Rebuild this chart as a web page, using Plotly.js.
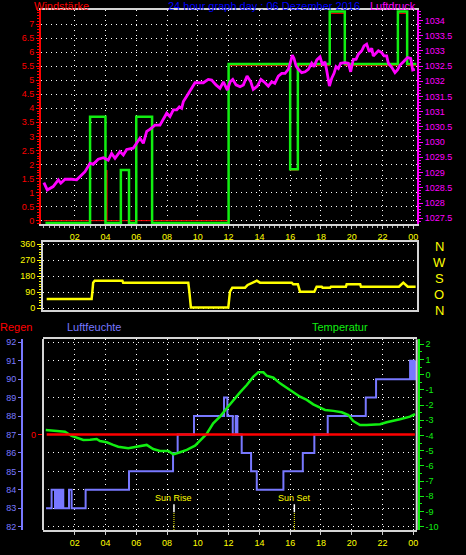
<!DOCTYPE html>
<html>
<head>
<meta charset="utf-8">
<script src="https://cdn.plot.ly/plotly-3.0.1.min.js"></script>
<style>html,body{margin:0;padding:0;background:#000;}#chart{width:466px;height:555px;}</style>
</head>
<body>
<div id="chart"></div>
<script>
// ---------- axis labels ----------
const hourTickVals = [2,4,6,8,10,12,14,16,18,20,22,24];
const hourTickText = ["02","04","06","08","10","12","14","16","18","20","22","00"];
const windTickVals = [0,0.5,1,1.5,2,2.5,3,3.5,4,4.5,5,5.5,6,6.5,7];
const pressTickVals = [1027.5,1028,1028.5,1029,1029.5,1030,1030.5,1031,1031.5,1032,1032.5,1033,1033.5,1034];
const pressTickText = ["1027.5","1028","1028.5","1029","1029.5","1030","1030.5","1031","1031.5","1032","1032.5","1033","1033.5","1034"];
const dirTickVals = [0,90,180,270,360];
const compassLabels = ["N","O","S","W","N"];
const humTickVals = [82,83,84,85,86,87,88,89,90,91,92];
const tempTickVals = [2,1,0,-1,-2,-3,-4,-5,-6,-7,-8,-9,-10];
const tempTickText = ["2","1","0","-1","-2","-3","-4","-5","-6","-7","-8","-9","-10"];
const rainTickVals = [0];
const rainTickText = ["0"];

// ---------- top panel: wind speed (green), average (red), pressure (magenta) ----------
const windTimes = [0.1, 3.0, 4.0, 5.0, 5.53, 6.0, 7.03, 12.0, 16.0, 16.5, 18.57, 19.55, 23.0, 23.6, 24.2];
const windSpeed = [-0.08, 3.7, -0.08, 1.8, -0.08, 3.7, -0.08, 5.58, 1.83, 5.58, 7.45, 5.58, 7.45, 5.58, 5.58];
const windAvgTimes = [0, 4.07, 4.1, 12.0, 16.0, 16.5, 18.57, 19.55, 23.0, 23.6, 24.2];
const windAvg = [0, 1.8, 0, 5.52, 1.8, 5.52, 7.38, 5.52, 7.38, 5.52, 5.52];

const pressTimes = [0.0,0.22,0.6,0.94,1.1,1.37,1.8,2.13,2.45,2.67,3.0,3.2,3.53,3.86,4.18,4.4,4.62,4.94,5.16,5.38,5.8,6.0,6.24,6.46,6.68,6.88,7.22,7.54,7.76,7.98,8.19,8.41,8.63,8.8,8.95,9.06,9.28,9.5,9.7,9.82,10.03,10.36,10.68,10.9,11.18,11.44,11.66,11.92,12.1,12.27,12.48,12.74,12.96,13.2,13.44,13.6,13.87,14.1,14.37,14.58,14.8,15.0,15.23,15.45,15.67,15.88,16.03,16.14,16.25,16.38,16.53,16.75,16.97,17.18,17.4,17.55,17.73,17.94,18.1,18.26,18.37,18.48,18.55,18.7,18.85,18.98,19.13,19.28,19.56,19.78,19.93,20.1,20.28,20.43,20.65,20.8,20.97,21.14,21.3,21.4,21.58,21.73,21.95,22.1,22.27,22.38,22.6,22.81,22.97,23.14,23.36,23.62,23.83,23.96,24.1];
const pressure = [1028.67,1028.43,1028.54,1028.76,1028.65,1028.78,1028.78,1028.76,1028.92,1029.03,1029.31,1029.27,1029.44,1029.49,1029.41,1029.63,1029.47,1029.69,1029.58,1029.76,1029.8,1029.94,1030.13,1029.96,1030.35,1030.42,1030.56,1030.56,1030.78,1030.95,1030.84,1031.06,1031.06,1031.16,1031.11,1031.33,1031.51,1031.69,1031.88,1031.95,1031.95,1031.95,1032.06,1032.04,1031.88,1031.77,1031.98,1031.71,1031.98,1032.06,1031.88,1031.82,1031.88,1032.17,1031.98,1031.73,1031.84,1032.06,1031.95,1031.84,1031.98,1031.93,1032.17,1032.26,1032.26,1032.39,1032.64,1032.86,1032.75,1032.5,1032.39,1032.28,1032.31,1032.39,1032.59,1032.48,1032.7,1032.8,1032.53,1032.64,1032.37,1032.1,1031.84,1032.1,1032.26,1032.48,1032.42,1032.59,1032.61,1032.59,1032.31,1032.72,1032.72,1032.89,1033.0,1033.16,1033.22,1032.97,1033.08,1032.83,1032.92,1033.0,1032.94,1032.83,1032.83,1032.59,1032.46,1032.28,1032.37,1032.53,1032.64,1032.78,1032.75,1032.37,1032.39];

// ---------- middle panel: wind direction ----------
const dirTimes = [0.18,3.1,3.15,3.2,3.3,5.1,5.15,9.38,9.45,9.5,9.55,11.98,12.09,12.24,13.07,13.24,13.6,13.83,14.04,16.1,16.2,16.5,16.64,17.57,17.72,18.05,18.1,18.6,18.65,19.62,19.67,20.55,20.6,23.07,23.35,23.64,24.15];
const windDir = [51,51,92,143,154,154,143,143,92,28,3,3,92,115,115,130,143,154,143,143,134,134,92,92,120,120,115,115,120,120,134,134,120,120,143,120,120];

// ---------- bottom panel: humidity, temperature, rain ----------
const humTimes = [0.14,0.5,0.72,0.76,0.8,0.84,0.88,0.92,0.96,1.0,1.04,1.08,1.12,1.16,1.2,1.24,1.26,1.63,1.8,2.71,5.53,8.39,8.69,9.75,11.7,11.92,12.27,12.46,12.57,12.85,13.46,13.83,15.56,16.82,17.57,18.44,20.91,21.58,23.79,23.83,23.87,23.91,23.95,23.99,24.03,24.07,24.12];
const humidity = [83,84,83,84,83,84,83,84,83,84,83,84,83,84,83,84,83,84,83,84,85,86,87,88,89,88,87,88,87,86,85,84,85,86,87,88,89,90,91,90,91,90,91,90,91,90,91];

const tempTimes = [0.12,0.6,1.0,1.37,1.8,2.56,3.0,3.43,3.64,4.08,4.5,4.83,5.48,6.03,6.68,7.1,7.54,8.08,8.41,8.84,9.28,9.82,10.14,10.57,11.0,11.44,11.88,12.31,12.74,13.18,13.61,13.93,14.26,14.48,14.91,15.34,15.78,16.21,16.64,17.08,17.5,17.94,18.27,18.8,19.35,19.78,20.1,20.54,20.97,21.84,22.27,23.13,23.78,24.11];
const temperature = [-3.64,-3.68,-3.72,-3.75,-4.03,-4.3,-4.28,-4.23,-4.36,-4.45,-4.62,-4.74,-4.84,-4.74,-4.62,-4.89,-5.02,-5.02,-5.24,-5.1,-4.95,-4.67,-4.36,-3.9,-3.2,-2.76,-2.21,-1.66,-1.16,-0.68,-0.13,0.16,0.16,-0.07,-0.2,-0.57,-0.86,-1.16,-1.45,-1.66,-1.95,-2.17,-2.32,-2.38,-2.47,-2.65,-3.05,-3.31,-3.31,-3.26,-3.13,-2.93,-2.76,-2.59];

const rainTimes = [0.18, 24.1];
const rain = [0, 0];

const sunTimes = [8.45, 16.27];
const sunLabels = ["Sun Rise", "Sun Set"];

// ---------- colors ----------
const RED = "#ff0000", MAGENTA = "#ff00ff", GREEN = "#11ee11", YELLOW = "#ffff00",
      HUMBLUE = "#7878ff", TITLEBLUE = "#0000ff", FRAME = "#d4d4d4", GRID = "#ffffff";
const FONT = "Liberation Sans, Arial, sans-serif";
const W = 466, H = 555;
const px = v => v / W;          // pixel -> paper x
const py = v => 1 - v / H;      // pixel -> paper y

const traces = [
  {x: windAvgTimes, y: windAvg, xaxis: "x", yaxis: "y", mode: "lines", line: {color: RED, width: 1, shape: "hv"}},
  {x: windTimes, y: windSpeed, xaxis: "x", yaxis: "y", mode: "lines", line: {color: GREEN, width: 2.5, shape: "hv"}},
  {x: pressTimes, y: pressure, xaxis: "x", yaxis: "y2", mode: "lines", line: {color: MAGENTA, width: 2.8}},
  {x: dirTimes, y: windDir, xaxis: "x2", yaxis: "y3", mode: "lines", line: {color: YELLOW, width: 2.5}},
  {x: humTimes, y: humidity, xaxis: "x3", yaxis: "y5", mode: "lines", line: {color: HUMBLUE, width: 2, shape: "hv"}},
  {x: tempTimes, y: temperature, xaxis: "x3", yaxis: "y6", mode: "lines", line: {color: GREEN, width: 2.5}},
  {x: rainTimes, y: rain, xaxis: "x3", yaxis: "y7", mode: "lines", line: {color: RED, width: 2.5}}
];

const gridStyle = {showgrid: true, gridcolor: GRID, gridwidth: 1, griddash: "1px,4px"};
const tickFont = (c) => ({family: FONT, size: 9, color: c});

const layout = {
  width: W, height: H,
  margin: {l: 0, r: 0, t: 0, b: 0},
  paper_bgcolor: "#000", plot_bgcolor: "#000",
  showlegend: false,
  font: {family: FONT},
  xaxis: Object.assign({
    domain: [px(41), px(417)], range: [-0.188, 24.24], anchor: "y",
    tickmode: "array", tickvals: hourTickVals, ticktext: hourTickText,
    ticks: "outside", ticklen: 3, tickcolor: "#cccccc", tickfont: tickFont(YELLOW),
    showline: true, mirror: true, linecolor: FRAME, linewidth: 2, zeroline: false,
    minor: {tickmode: "linear", tick0: 0, dtick: 1/3, ticks: "outside", ticklen: 2, tickcolor: "#aaaaaa", showgrid: false}
  }, gridStyle),
  yaxis: Object.assign({
    domain: [py(224), py(10)], range: [-0.12, 7.5], anchor: "x",
    tickmode: "array", tickvals: windTickVals,
    ticks: "outside", ticklen: 3, tickcolor: RED, tickfont: tickFont(RED),
    showline: true, linecolor: RED, linewidth: 2, zeroline: false,
    minor: {tickmode: "linear", tick0: 0, dtick: 0.1, ticks: "outside", ticklen: 2, tickcolor: RED, showgrid: false}
  }, gridStyle),
  yaxis2: {
    overlaying: "y", side: "right", anchor: "x", range: [1027.31, 1034.34],
    tickmode: "array", tickvals: pressTickVals, ticktext: pressTickText,
    ticks: "outside", ticklen: 4, tickcolor: MAGENTA, tickfont: tickFont(MAGENTA),
    showline: true, linecolor: MAGENTA, linewidth: 2, showgrid: false, zeroline: false,
    minor: {tickmode: "linear", tick0: 1027.5, dtick: 0.1, ticks: "outside", ticklen: 2, tickcolor: MAGENTA, showgrid: false}
  },
  xaxis2: {
    domain: [px(43), px(417)], range: [-0.058, 24.24], anchor: "y3",
    showticklabels: false, ticks: "", showline: true, mirror: true, linecolor: FRAME, linewidth: 2,
    showgrid: false, zeroline: false
  },
  yaxis3: Object.assign({
    domain: [py(309.7), py(242.3)], range: [-9.6, 371], anchor: "x2",
    tickmode: "array", tickvals: dirTickVals,
    ticks: "outside", ticklen: 4, tickcolor: YELLOW, tickfont: tickFont(YELLOW),
    showline: true, mirror: true, linecolor: FRAME, linewidth: 2, zeroline: false,
    minor: {tickmode: "linear", tick0: 0, dtick: 15, ticks: "outside", ticklen: 2, tickcolor: YELLOW, showgrid: false}
  }, gridStyle),
  xaxis3: Object.assign({
    domain: [px(42.7), px(416.7)], range: [-0.078, 24.22], anchor: "y5",
    tickmode: "array", tickvals: hourTickVals, ticktext: hourTickText,
    ticks: "outside", ticklen: 3, tickcolor: "#cccccc", tickfont: tickFont(YELLOW),
    showline: true, mirror: true, linecolor: FRAME, linewidth: 2, zeroline: false
  }, gridStyle),
  yaxis5: Object.assign({
    domain: [py(530), py(339.3)], range: [81.82, 92.16], anchor: "free", position: px(22), side: "left",
    tickmode: "array", tickvals: humTickVals,
    ticks: "outside", ticklen: 3, tickcolor: HUMBLUE, tickfont: tickFont(HUMBLUE),
    showline: true, linecolor: HUMBLUE, linewidth: 2, zeroline: false
  }, gridStyle),
  yaxis6: {
    overlaying: "y5", side: "right", anchor: "free", position: px(418.7), range: [-10.22, 2.33],
    tickmode: "array", tickvals: tempTickVals, ticktext: tempTickText,
    ticks: "outside", ticklen: 4, tickcolor: GREEN, tickfont: tickFont(GREEN),
    showline: true, linecolor: GREEN, linewidth: 2, showgrid: false, zeroline: false,
    minor: {tickmode: "linear", tick0: 0, dtick: 0.5, ticks: "outside", ticklen: 2, tickcolor: GREEN, showgrid: false}
  },
  yaxis7: {
    overlaying: "y5", side: "left", anchor: "free", position: px(42.7), range: [-5.18, 5.16],
    tickmode: "array", tickvals: rainTickVals, ticktext: rainTickText,
    ticks: "outside", ticklen: 4, tickcolor: RED, tickfont: tickFont(RED),
    showline: true, linecolor: FRAME, linewidth: 2, showgrid: false, zeroline: false
  },
  shapes: [
    {type: "line", xref: "paper", yref: "paper", x0: px(416.7), x1: px(416.7), y0: py(530), y1: py(339.3), line: {color: FRAME, width: 2}}
  ],
  annotations: [
    {text: "Windstärke", xref: "paper", yref: "paper", x: px(61), y: py(6), showarrow: false, xanchor: "center", yanchor: "middle", font: {family: FONT, size: 11, color: RED}},
    {text: "24 hour graph day : 06 Dezember 2016", xref: "paper", yref: "paper", x: px(264), y: py(6), showarrow: false, xanchor: "center", yanchor: "middle", font: {family: FONT, size: 11, color: TITLEBLUE}},
    {text: "Luftdruck", xref: "paper", yref: "paper", x: px(393), y: py(6), showarrow: false, xanchor: "center", yanchor: "middle", font: {family: FONT, size: 11, color: MAGENTA}},
    {text: "Regen", xref: "paper", yref: "paper", x: px(16), y: py(327), showarrow: false, xanchor: "center", yanchor: "middle", font: {family: FONT, size: 11, color: RED}},
    {text: "Luftfeuchte", xref: "paper", yref: "paper", x: px(93.5), y: py(327), showarrow: false, xanchor: "center", yanchor: "middle", font: {family: FONT, size: 11, color: HUMBLUE}},
    {text: "Temperatur", xref: "paper", yref: "paper", x: px(339.5), y: py(327), showarrow: false, xanchor: "center", yanchor: "middle", font: {family: FONT, size: 11, color: GREEN}}
  ]
};

// compass letters for the wind direction panel
dirTickVals.forEach((v, i) => {
  layout.annotations.push({text: compassLabels[i], xref: "paper", yref: "y3", x: px(439), y: v, yshift: -2,
    showarrow: false, xanchor: "center", yanchor: "middle", font: {family: FONT, size: 13, color: YELLOW}});
});

// sunrise / sunset markers
sunTimes.forEach((t, i) => {
  layout.annotations.push({text: sunLabels[i], xref: "x3", yref: "paper", x: t, y: py(497.7),
    showarrow: false, xanchor: "center", yanchor: "middle", font: {family: FONT, size: 9, color: YELLOW}});
  layout.shapes.push({type: "line", xref: "x3", yref: "paper", x0: t, x1: t, y0: py(512.3), y1: py(504.3), line: {color: "#ffffff", width: 1.5}});
  layout.shapes.push({type: "line", xref: "x3", yref: "paper", x0: t, x1: t, y0: py(530), y1: py(512.3), line: {color: YELLOW, width: 1, dash: "1px,1px"}});
});

Plotly.newPlot("chart", traces, layout, {staticPlot: true, displayModeBar: false});
</script>
</body>
</html>
